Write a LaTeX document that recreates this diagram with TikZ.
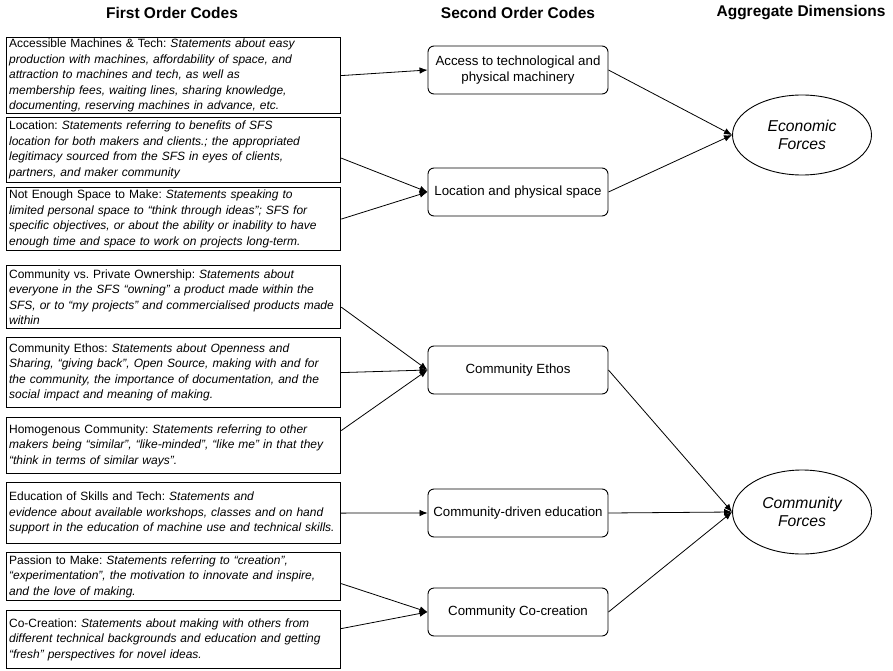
\documentclass[tikz,border=0pt]{standalone}
\usepackage{fontspec}
\setmainfont{Liberation Sans}
\frenchspacing
\usetikzlibrary{shapes, arrows, arrows.meta, positioning}

\begin{document}
\begin{tikzpicture}[x=1pt, y=-1pt,
	head/.style={font=\bfseries\fontsize{15.5}{18}\selectfont},
	first/.style={draw, line width=1.2pt, anchor=north west, text width=329pt, inner xsep=2.5pt, inner ysep=1pt, align=left, font=\fontsize{12}{15.5}\selectfont},
	second/.style={draw, rounded corners=6pt, line width=0.9pt, minimum width=180pt, minimum height=48pt, align=center, font=\fontsize{13.3}{16}\selectfont},
	agg/.style={draw, ellipse, line width=0.9pt, minimum width=139pt, minimum height=80pt, align=center, font=\itshape\fontsize{15.7}{18.5}\selectfont},
	arr/.style={-{Latex[length=8pt, width=6.5pt]}, line width=0.8pt}]
		\useasboundingbox (0,0) rectangle (893,671);
		\node[head] (firsthead) at (172,13) {First Order Codes};
		\node[head] (secondhead) at (518,13) {Second Order Codes};
		\node[head] (agghead) at (801,13) {Aggregate Dimensions};

		\node[first, minimum height=76pt] (machines) at (6,37) {Accessible Machines \& Tech: {\itshape Statements about easy\\production with machines, affordability of space, and\\attraction to machines and tech, as well as\\membership fees, waiting lines, sharing knowledge,\\documenting, reserving machines in advance, etc.}};
		\node[first, minimum height=65pt] (location) at (6,117) {Location: {\itshape Statements referring to benefits of SFS\\location for both makers and clients.; the appropriated\\legitimacy sourced from the SFS in eyes of clients,\\partners, and maker community}};
		\node[first, minimum height=63pt] (nospace) at (6,187) {Not Enough Space to Make: {\itshape Statements speaking to\\limited personal space to “think through ideas”; SFS for\\specific objectives, or about the ability or inability to have\\enough time and space to work on projects long-term.}};
		\node[first, minimum height=63pt] (ownership) at (6,265) {Community vs. Private Ownership: {\itshape Statements about\\everyone in the SFS “owning” a product made within the\\SFS, or to “my projects” and commercialised products made\\within}};
		\node[first, minimum height=70pt] (ethos) at (6,337) {Community Ethos: {\itshape Statements about Openness and\\Sharing, “giving back”, Open Source, making with and for\\the community, the importance of documentation, and the\\social impact and meaning of making.}};
		\node[first, minimum height=56pt] (homogen) at (6,417) {Homogenous Community: {\itshape Statements referring to other\\makers being “similar”, “like-minded”, “like me” in that they\\“think in terms of similar ways”.}};
		\node[first, minimum height=61pt] (skills) at (6,482) {Education of Skills and Tech: {\itshape Statements and\\evidence about available workshops, classes and on hand\\support in the education of machine use and technical skills.}};
		\node[first, minimum height=48pt] (passion) at (6,552) {Passion to Make: {\itshape Statements referring to “creation”,\\“experimentation”, the motivation to innovate and inspire,\\and the love of making.}};
		\node[first, minimum height=58pt] (cocreate) at (6,610) {Co-Creation: {\itshape Statements about making with others from\\different technical backgrounds and education and getting\\“fresh” perspectives for novel ideas.}};

		\node[second] (access) at (518,70) {Access to technological and\\physical machinery};
		\node[second] (physspace) at (518,192) {Location and physical space};
		\node[second] (comethos) at (518,370) {Community Ethos};
		\node[second] (comedu) at (518,513) {Community-driven education};
		\node[second] (comcocreate) at (518,612) {Community Co-creation};

		\node[agg] (economic) at (802,135) {Economic\\Forces};
		\node[agg, minimum height=84pt] (community) at (802,512) {Community\\Forces};

		\draw[arr] (machines.east) -- (access.west);
		\draw[arr] ([yshift=-8pt]location.east) -- (physspace.west);
		\draw[arr] (nospace.east) -- (physspace.west);
		\draw[arr] ([yshift=-10pt]ownership.east) -- (comethos.west);
		\draw[arr] (ethos.east) -- (comethos.west);
		\draw[arr] ([yshift=15pt]homogen.east) -- (comethos.west);
		\draw[arr] (skills.east) -- (comedu.west);
		\draw[arr] ([yshift=-7pt]passion.east) -- (comcocreate.west);
		\draw[arr] ([yshift=11pt]cocreate.east) -- (comcocreate.west);

		\draw[arr] (access.east) -- (economic.west);
		\draw[arr] (physspace.east) -- (economic.west);
		\draw[arr] (comethos.east) -- (community.west);
		\draw[arr] (comedu.east) -- (community.west);
		\draw[arr] (comcocreate.east) -- (community.west);
	\end{tikzpicture}
\end{document}
